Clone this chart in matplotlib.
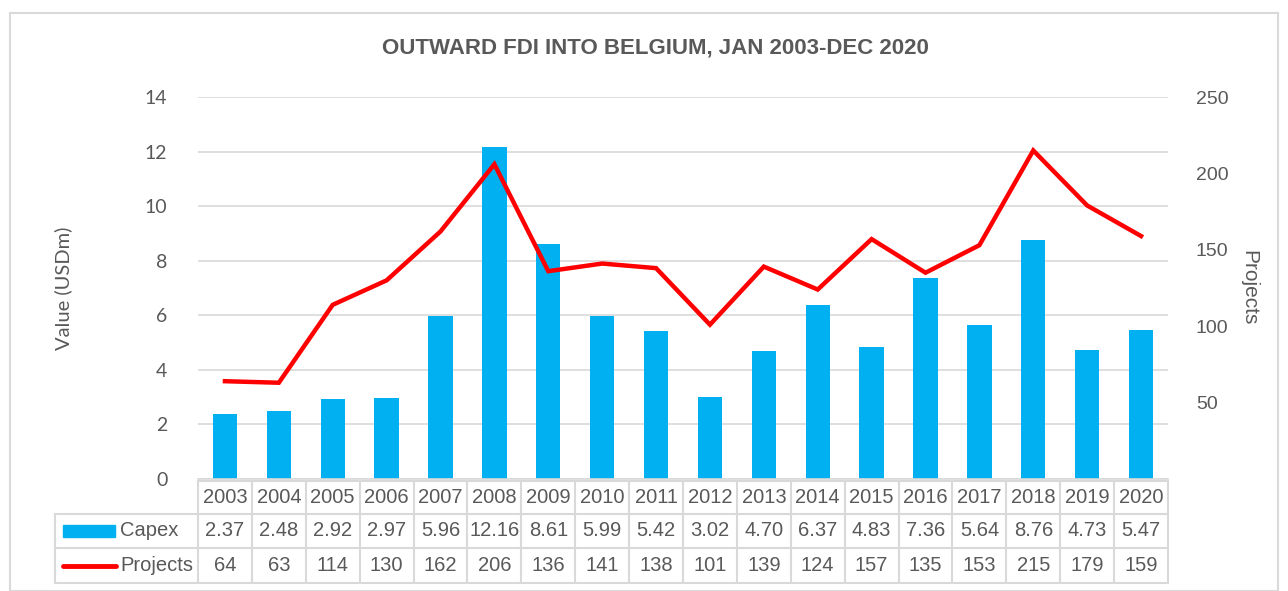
import matplotlib
matplotlib.use("Agg")
import matplotlib.pyplot as plt
from matplotlib import font_manager as fm
from matplotlib.transforms import blended_transform_factory
from matplotlib.patches import Rectangle

years = ["2003", "2004", "2005", "2006", "2007", "2008", "2009", "2010", "2011",
         "2012", "2013", "2014", "2015", "2016", "2017", "2018", "2019", "2020"]
capex = [2.37, 2.48, 2.92, 2.97, 5.96, 12.16, 8.61, 5.99, 5.42,
         3.02, 4.70, 6.37, 4.83, 7.36, 5.64, 8.76, 4.73, 5.47]
projects = [64, 63, 114, 130, 162, 206, 136, 141, 138,
            101, 139, 124, 157, 135, 153, 215, 179, 159]
left_ticks = [0, 2, 4, 6, 8, 10, 12, 14]
right_ticks = [50, 100, 150, 200, 250]
title = "OUTWARD FDI INTO BELGIUM, JAN 2003-DEC 2020"

names = {f.name for f in fm.fontManager.ttflist}
narrow = "Liberation Sans Narrow" if "Liberation Sans Narrow" in names else "Liberation Sans"
calib = "Lato" if "Lato" in names else "DejaVu Sans"

TXT = "#595959"
GRID = "#d9d9d9"
BLUE = "#00b0f0"
RED = "#ff0000"

W, H = 1288, 591
fig = plt.figure(figsize=(W / 100, H / 100), dpi=100)
fig.patches.append(Rectangle((10 / W, 0), (1278 - 10) / W, (H - 13) / H, transform=fig.transFigure,
                             fill=False, edgecolor=GRID, lw=1.5))

L, R, T, B = 198, 1168, 97, 479
ax = fig.add_axes([L / W, 1 - B / H, (R - L) / W, (B - T) / H])
ax2 = ax.twinx()

x = list(range(len(years)))
ax.bar(x, capex, width=0.45, color=BLUE, zorder=2)
ax.set_xlim(-0.5, len(years) - 0.5)
ax.set_ylim(0, 14)
ax.set_yticks(left_ticks)
ax.set_yticklabels([str(t) for t in left_ticks], fontfamily=calib, fontsize=14, color=TXT)
ax.tick_params(axis="y", length=0, pad=22)
ax.set_xticks([])
ax.grid(axis="y", color=GRID, lw=1.2, zorder=0)
ax.set_axisbelow(True)
for s in ["top", "right", "left"]:
    ax.spines[s].set_visible(False)
ax.spines["bottom"].set_color(GRID)
ax.spines["bottom"].set_linewidth(1.2)

ax2.plot(x, projects, color=RED, lw=3.2, solid_joinstyle="miter", zorder=3)
ax2.set_ylim(0, 250)
ax2.set_yticks(right_ticks)
ax2.set_yticklabels([str(t) for t in right_ticks], fontfamily=narrow, fontsize=14, color=TXT)
ax2.tick_params(axis="y", length=0, pad=20)
for s in ax2.spines.values():
    s.set_visible(False)

ax.set_ylabel("Value (USDm)", fontfamily=calib, fontsize=14.5, color=TXT, labelpad=0)
ax.yaxis.set_label_coords((72 - L) / (R - L), 0.5)
ax2.set_ylabel("Projects", fontfamily=narrow, fontsize=15, color=TXT, rotation=-90, va="center")
ax2.yaxis.set_label_coords((1249 - L) / (R - L), 0.5)

fig.text(655 / W, 1 - 48 / H, title, ha="center", va="center", fontsize=16,
         fontweight="bold", fontfamily=narrow, color=TXT)

# data table
def ay(py):
    return (B - py) / (B - T)

def axx(px):
    return (px - L) / (R - L)

tr = blended_transform_factory(ax.transData, ax.transAxes)
rows_y = [481, 514, 548, 583]
for i in range(len(years) + 1):
    ax.plot([i - 0.5, i - 0.5], [ay(rows_y[0]), ay(rows_y[-1])], transform=tr,
            color=GRID, lw=1.5, clip_on=False)
ax.plot([axx(55), axx(55)], [ay(rows_y[1]), ay(rows_y[-1])], transform=ax.transAxes,
        color=GRID, lw=1.5, clip_on=False)
ax.plot([0, 1], [ay(rows_y[0])] * 2, transform=ax.transAxes, color=GRID, lw=1.5, clip_on=False)
for py in rows_y[1:]:
    ax.plot([axx(55), 1], [ay(py)] * 2, transform=ax.transAxes, color=GRID, lw=1.5, clip_on=False)

fs = 14.5
for i, yr in enumerate(years):
    ax.text(i, ay((rows_y[0] + rows_y[1]) / 2), yr, transform=tr, ha="center", va="center",
            fontsize=fs, fontfamily=narrow, color=TXT)
    ax.text(i, ay((rows_y[1] + rows_y[2]) / 2), f"{capex[i]:.2f}", transform=tr, ha="center",
            va="center", fontsize=fs, fontfamily=narrow, color=TXT)
    ax.text(i, ay((rows_y[2] + rows_y[3]) / 2), f"{projects[i]}", transform=tr, ha="center",
            va="center", fontsize=fs, fontfamily=narrow, color=TXT)

ym1 = ay((rows_y[1] + rows_y[2]) / 2)
ym2 = ay((rows_y[2] + rows_y[3]) / 2)
ax.add_patch(Rectangle((axx(63), ym1 - 6 / (B - T)), axx(115) - axx(63), 12 / (B - T),
                       transform=ax.transAxes, color=BLUE, clip_on=False))
ax.plot([axx(63), axx(116)], [ym2, ym2], transform=ax.transAxes, color=RED, lw=3.5,
        solid_capstyle="round", clip_on=False)
ax.text(axx(120), ym1, "Capex", transform=ax.transAxes, ha="left", va="center",
        fontsize=fs, fontfamily=narrow, color=TXT)
ax.text(axx(120), ym2, "Projects", transform=ax.transAxes, ha="left", va="center",
        fontsize=fs, fontfamily=narrow, color=TXT)

fig.savefig("out.png", dpi=100)
